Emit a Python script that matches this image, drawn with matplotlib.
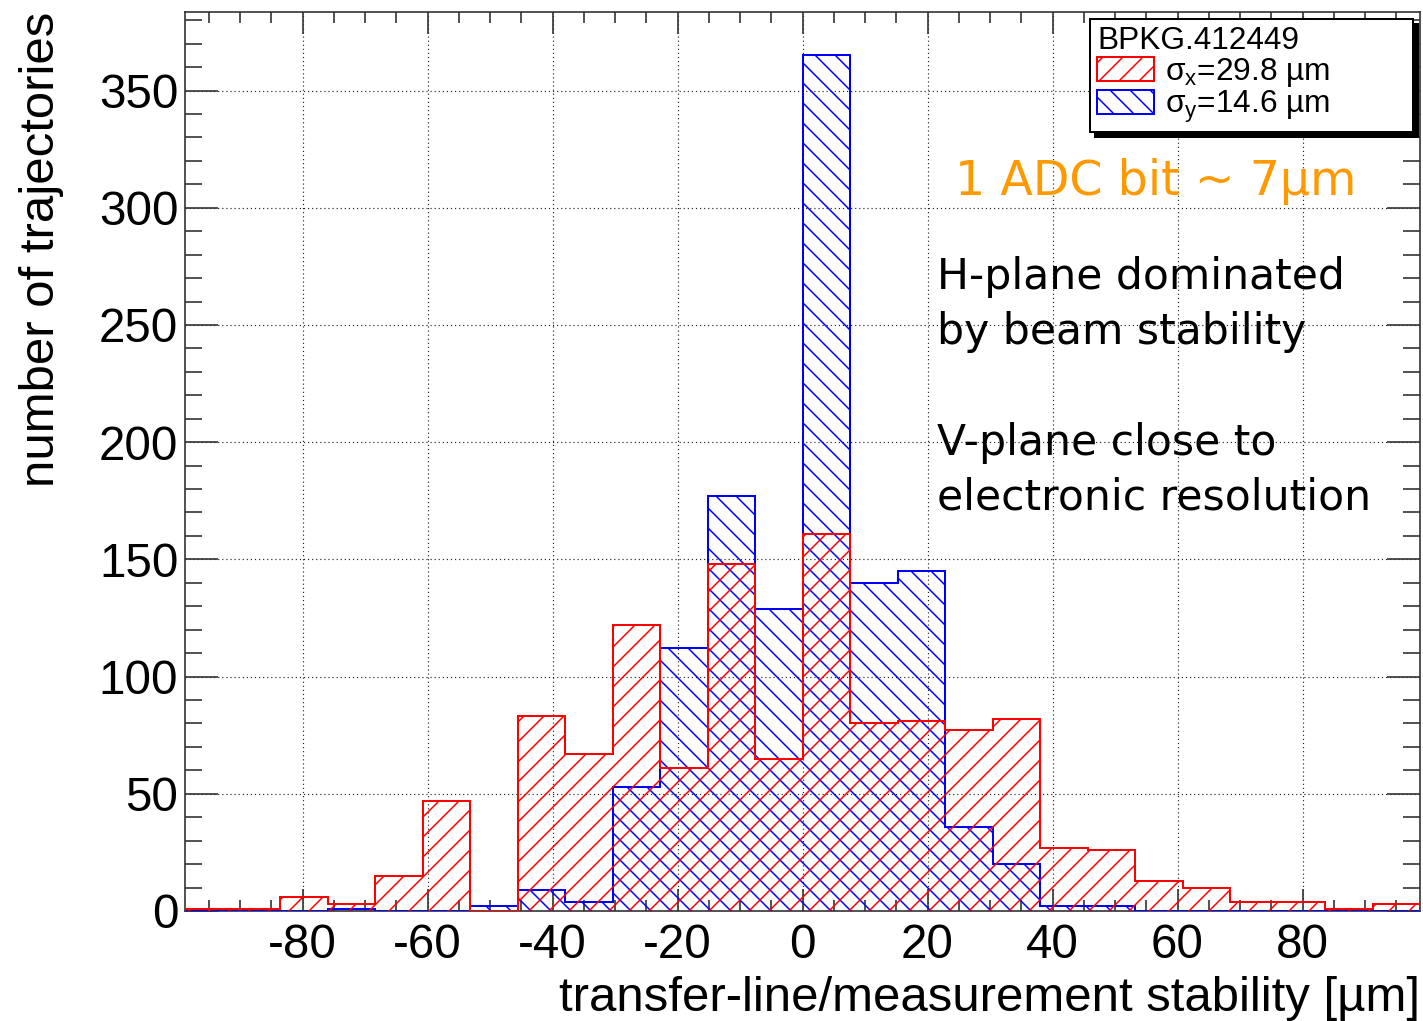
import numpy as np
import matplotlib
matplotlib.use('Agg')
import matplotlib.pyplot as plt
from matplotlib.ticker import MultipleLocator

plt.rcParams['font.family'] = ['Liberation Sans', 'DejaVu Sans']
plt.rcParams['mathtext.fontset'] = 'custom'
plt.rcParams['mathtext.rm'] = 'Liberation Sans'
plt.rcParams['mathtext.it'] = 'Liberation Sans:italic'
plt.rcParams['mathtext.default'] = 'regular'
plt.rcParams['axes.unicode_minus'] = False
plt.rcParams['hatch.linewidth'] = 0.9

# histogram binning (um)
bin_width = 7.6
n_bins = 26
edges = (np.arange(n_bins + 1) - n_bins / 2) * bin_width

# counts per bin
counts_x = [1, 1, 6, 3, 15, 47, 0, 83, 67, 122, 61, 148, 65,
            161, 80, 81, 77, 82, 27, 26, 13, 10, 4, 4, 1, 3]
counts_y = [0, 0, 0, 1, 0, 0, 2, 9, 4, 53, 112, 177, 129,
            365, 140, 145, 36, 20, 2, 2, 0, 0, 0, 0, 0, 0]

labels = [u'\u03c3$_x$=29.8 \u00b5m', u'\u03c3$_y$=14.6 \u00b5m']
legend_title = 'BPKG.412449'
note_adc = u'1 ADC bit ~ 7\u00b5m'
note_planes = 'H-plane dominated\nby beam stability\n\nV-plane close to\nelectronic resolution'

W, H, DPI = 1423, 1021, 120
fig = plt.figure(figsize=(W / DPI, H / DPI), dpi=DPI)
ax = fig.add_axes([185 / W, 110 / H, (1420 - 185) / W, (911 - 12) / H])

hy = ax.stairs(counts_y, edges, fill=True, facecolor='none', edgecolor='blue',
               hatch='\\\\', linewidth=1.2, label=labels[1], zorder=3)
hx = ax.stairs(counts_x, edges, fill=True, facecolor='none', edgecolor='red',
               hatch='//', linewidth=1.2, label=labels[0], zorder=4)

ax.set_xlim(edges[0], edges[-1])
ax.set_ylim(0, 383.5)

ax.xaxis.set_major_locator(MultipleLocator(20))
ax.xaxis.set_minor_locator(MultipleLocator(5))
ax.yaxis.set_major_locator(MultipleLocator(50))
ax.yaxis.set_minor_locator(MultipleLocator(10))
ax.tick_params(which='both', direction='in', top=True, right=True, color='#333333')
ax.tick_params(axis='x', which='major', length=13, width=1, labelsize=28.5, pad=7)
ax.tick_params(axis='x', which='minor', length=6.6, width=1)
ax.tick_params(axis='y', which='major', length=19.8, width=1, labelsize=28.5, pad=4)
ax.tick_params(axis='y', which='minor', length=10, width=1)
for s in ax.spines.values():
    s.set_color('#333333')
    s.set_linewidth(1.0)

ax.grid(True, which='major', color='#222222', linestyle=(0, (1, 2.5)), linewidth=0.7, zorder=0)
ax.set_axisbelow(True)

ax.set_xlabel(u'transfer-line/measurement stability [\u00b5m]', fontsize=29.5, loc='right')
ax.xaxis.set_label_coords(1.0, -0.072)
ax.set_ylabel('number of trajectories', fontsize=29.5, loc='top')
ax.yaxis.set_label_coords(-0.098, 1.0)

fig.text(955 / W, 1 - 195 / H, note_adc, color='#ff9900', fontsize=28.5,
         family='DejaVu Sans', ha='left', va='baseline')
fig.text(937 / W, 1 - 510 / H, note_planes, color='black', fontsize=25.5,
         family='DejaVu Sans', ha='left', va='baseline', linespacing=1.4)

leg = ax.legend(handles=[hx, hy], labels=labels, title=legend_title,
                loc='upper left', mode='expand',
                bbox_to_anchor=(1090 / W, 1 - 125 / H, (1413 - 1090) / W, 106 / H),
                bbox_transform=fig.transFigure, fontsize=19, title_fontsize=19,
                alignment='left', fancybox=False, framealpha=1, edgecolor='black',
                shadow={'ox': 3, 'oy': -3, 'color': 'black', 'alpha': 1},
                handlelength=1.8, handleheight=0.8, handletextpad=0.35,
                labelspacing=0.0, borderpad=0.22, borderaxespad=0)
leg.get_frame().set_linewidth(1.2)
leg.set_zorder(10)

fig.savefig('out.png', dpi=DPI)
